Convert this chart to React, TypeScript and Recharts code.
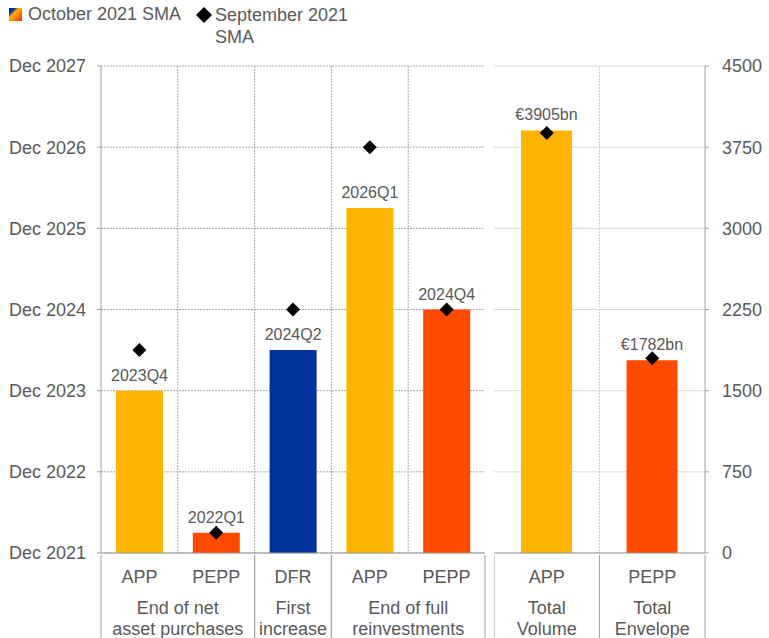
import { Bar, CartesianGrid, Cell, ComposedChart, LabelList, Scatter, XAxis, YAxis } from "recharts";

// left panel: dates measured in quarters after Dec 2021
const leftCategories = ["APP", "PEPP", "DFR", "APP", "PEPP"];
const leftGroupOf = [0, 0, 1, 2, 2];
const leftGroups = [["End of net", "asset purchases"], ["First", "increase"], ["End of full", "reinvestments"]];
const octoberQuarters = [8, 1, 10, 17, 12];
const septemberQuarters = [10, 1, 12, 20, 12];
const leftBarLabels = ["2023Q4", "2022Q1", "2024Q2", "2026Q1", "2024Q4"];
const leftTickLabels = ["Dec 2021", "Dec 2022", "Dec 2023", "Dec 2024", "Dec 2025", "Dec 2026", "Dec 2027"];

// right panel: volumes in EUR bn
const rightCategories = ["APP", "PEPP"];
const rightGroupOf = [0, 1];
const rightGroups = [["Total", "Volume"], ["Total", "Envelope"]];
const octoberVolume = [3905, 1782];
const septemberVolume = [3880, 1800];
const rightBarLabels = ["€3905bn", "€1782bn"];
const rightTicks = [0, 750, 1500, 2250, 3000, 3750, 4500];

const colors: Record<string, string> = { APP: "#FFB400", PEPP: "#FF4B00", DFR: "#003299" };
const FONT = "'Liberation Sans', Arial, sans-serif";
const TEXT = "#595959";
const SEP = "#a0a0a0";

const leftData = leftCategories.map((c, i) => ({
    key: `${c}-${i}`,
    cat: c,
    oct: octoberQuarters[i],
    sept: septemberQuarters[i],
    label: leftBarLabels[i],
}));

const rightData = rightCategories.map((c, i) => ({
    key: `${c}-${i}`,
    cat: c,
    oct: octoberVolume[i],
    sept: septemberVolume[i],
    label: rightBarLabels[i],
}));

const Diamond = (props: any) => {
    const { cx, cy } = props;
    if (cx == null || cy == null) return null;
    const r = 7;
    return <polygon points={`${cx},${cy - r} ${cx + r},${cy} ${cx},${cy + r} ${cx - r},${cy}`} fill="#000" />;
};

// two-level category tick with group separators below the axis
function makeTick(cats: string[], groupOf: number[], groups: string[][], band: number) {
    return function CatTick(props: any) {
        const { x, y, payload } = props;
        const i = payload.index;
        const g = groupOf[i];
        const first = i === 0 || groupOf[i - 1] !== g;
        const last = i === cats.length - 1 || groupOf[i + 1] !== g;
        const n = groupOf.filter((v) => v === g).length;
        const cx = x + ((n - 1) * band) / 2;
        return (
            <g>
                <text x={x} y={y + 28} textAnchor="middle" fill={TEXT} fontSize={18} fontFamily={FONT}>
                    {cats[i]}
                </text>
                {first &&
                    groups[g].map((line, k) => (
                        <text key={k} x={cx} y={y + 59 + k * 21} textAnchor="middle" fill={TEXT} fontSize={18} fontFamily={FONT}>
                            {line}
                        </text>
                    ))}
                {first && <line x1={x - band / 2} x2={x - band / 2} y1={y} y2={y + 85} stroke={SEP} />}
                {last && <line x1={x + band / 2} x2={x + band / 2} y1={y} y2={y + 85} stroke={SEP} />}
            </g>
        );
    };
}

const boundaries = (n: number) => ({ offset }: any) =>
    Array.from({ length: n - 1 }, (_, i) => offset.left + (offset.width * (i + 1)) / n);

const LeftTick = makeTick(leftCategories, leftGroupOf, leftGroups, 384 / leftCategories.length);
const RightTick = makeTick(rightCategories, rightGroupOf, rightGroups, 211 / rightCategories.length);

function Legend() {
    return (
        <div style={{ position: "absolute", left: 0, top: 0, fontFamily: FONT, fontSize: 18, color: TEXT }}>
            <div style={{ position: "absolute", left: 9, top: 8, width: 13, height: 13, background: "linear-gradient(135deg, #003299 0%, #003299 22%, #FFB400 40%, #FF4B00 85%)" }} />
            <span style={{ position: "absolute", left: 28, top: 4, whiteSpace: "nowrap" }}>October 2021 SMA</span>
            <svg style={{ position: "absolute", left: 196, top: 7 }} width={16} height={16}>
                <polygon points="8,0 16,8 8,16 0,8" fill="#000" />
            </svg>
            <span style={{ position: "absolute", left: 215, top: 4, width: 150, lineHeight: "22px" }}>
                September 2021 SMA
            </span>
        </div>
    );
}

export default function App() {
    return (
        <div style={{ position: "absolute", left: 0, top: 0, width: 769, height: 638, background: "#fff", fontFamily: FONT }}>
            <Legend />
            <div style={{ position: "absolute", left: 0, top: 0 }}>
                <ComposedChart width={490} height={638} data={leftData} margin={{ top: 66, right: 5, bottom: 0, left: 0 }}>
                    <CartesianGrid stroke="#a6a6a6" strokeDasharray="2 1" verticalCoordinatesGenerator={boundaries(leftCategories.length)} />
                    <XAxis dataKey="key" height={85} interval={0} tickLine={false} tickSize={0} tick={<LeftTick />} axisLine={{ stroke: "#999" }} />
                    <YAxis
                        width={101}
                        domain={[0, 24]}
                        ticks={leftTickLabels.map((_, i) => i * 4)}
                        tickFormatter={(v: number) => leftTickLabels[v / 4]}
                        tick={{ fill: TEXT, fontSize: 18, fontFamily: FONT }}
                        tickSize={4}
                        tickMargin={11}
                        tickLine={{ stroke: "#a0a0a0" }}
                        axisLine={{ stroke: "#a0a0a0" }}
                    />
                    <YAxis yAxisId="border" orientation="right" width={0} tick={false} tickLine={false} axisLine={{ stroke: "#bfbfbf" }} />
                    <Bar dataKey="oct" barSize={47} isAnimationActive={false}>
                        {leftData.map((d) => (
                            <Cell key={d.key} fill={colors[d.cat]} />
                        ))}
                        <LabelList dataKey="label" position="top" offset={10} fill={TEXT} fontSize={16} fontFamily={FONT} />
                    </Bar>
                    <Scatter dataKey="sept" shape={Diamond} isAnimationActive={false} />
                </ComposedChart>
            </div>
            <div style={{ position: "absolute", left: 494, top: 0 }}>
                <ComposedChart width={275} height={638} data={rightData} margin={{ top: 66, right: 0, bottom: 0, left: 0 }}>
                    <CartesianGrid stroke="#d9d9d9" horizontal={true} vertical={false} />
                    <CartesianGrid stroke="#d0d0d0" strokeDasharray="2 1" horizontal={false} verticalCoordinatesGenerator={boundaries(rightCategories.length)} />
                    <XAxis dataKey="key" height={85} interval={0} tickLine={false} tickSize={0} tick={<RightTick />} axisLine={{ stroke: "#999" }} />
                    <YAxis yAxisId="border" orientation="left" width={0} tick={false} tickLine={false} axisLine={{ stroke: "#d0d0d0" }} />
                    <YAxis
                        orientation="right"
                        width={64}
                        domain={[0, 4500]}
                        ticks={rightTicks}
                        tick={{ fill: TEXT, fontSize: 18, fontFamily: FONT }}
                        tickSize={4}
                        tickMargin={13}
                        tickLine={{ stroke: "#a0a0a0" }}
                        axisLine={{ stroke: "#a0a0a0" }}
                    />
                    <Bar dataKey="oct" barSize={51} isAnimationActive={false}>
                        {rightData.map((d) => (
                            <Cell key={d.key} fill={colors[d.cat]} />
                        ))}
                        <LabelList dataKey="label" position="top" offset={10} fill={TEXT} fontSize={16} fontFamily={FONT} />
                    </Bar>
                    <Scatter dataKey="sept" shape={Diamond} isAnimationActive={false} />
                </ComposedChart>
            </div>
        </div>
    );
}
